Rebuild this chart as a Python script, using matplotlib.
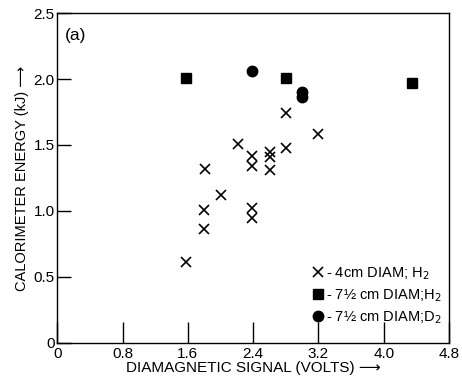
import matplotlib
matplotlib.use("Agg")
import matplotlib.pyplot as plt

plt.rcParams['font.family'] = ['Liberation Sans', 'DejaVu Sans']

# 4 cm diameter, H2 (crosses)
x4_h2 = [1.58, 1.80, 1.80, 1.81, 2.00, 2.22, 2.39, 2.39, 2.39, 2.39, 2.61, 2.61, 2.61, 2.80, 2.80, 3.19]
y4_h2 = [0.61, 0.86, 1.01, 1.32, 1.12, 1.51, 0.95, 1.02, 1.34, 1.42, 1.31, 1.41, 1.45, 1.48, 1.74, 1.58]
# 7 1/2 cm diameter, H2 (squares)
x7_h2 = [1.58, 2.80, 4.34]
y7_h2 = [2.01, 2.01, 1.97]
# 7 1/2 cm diameter, D2 (circles)
x7_d2 = [2.39, 3.00, 3.00]
y7_d2 = [2.06, 1.90, 1.86]

xticks = [0, 0.8, 1.6, 2.4, 3.2, 4.0, 4.8]
xtick_labels = ['0', '0.8', '1.6', '2.4', '3.2', '4.0', '4.8']
yticks = [0, 0.5, 1.0, 1.5, 2.0, 2.5]
ytick_labels = ['0', '0.5', '1.0', '1.5', '2.0', '2.5']

fig = plt.figure(figsize=(4.62, 3.84), dpi=100)
ax = fig.add_axes([0.124, 0.107, 0.848, 0.859])

ax.plot(x4_h2, y4_h2, 'x', color='black', markersize=6.5, markeredgewidth=1.2,
        label='- 4cm DIAM; H$_2$')
ax.plot(x7_h2, y7_h2, 's', color='black', markersize=7,
        label='- 7½ cm DIAM;H$_2$')
ax.plot(x7_d2, y7_d2, 'o', color='black', markersize=7.5,
        label='- 7½ cm DIAM;D$_2$')

ax.set_xlim(0, 4.8)
ax.set_ylim(0, 2.5)
ax.set_xticks(xticks)
ax.set_xticklabels(xtick_labels)
ax.set_yticks(yticks)
ax.set_yticklabels(ytick_labels)
ax.tick_params(axis='x', direction='in', length=15, width=1, labelsize=11, pad=3)
ax.tick_params(axis='y', direction='in', length=10, width=1, labelsize=11, pad=2)
for s in ax.spines.values():
    s.set_linewidth(1)

ax.set_xlabel('DIAMAGNETIC SIGNAL (VOLTS) ⟶', fontsize=11, labelpad=0)
ax.set_ylabel('CALORIMETER ENERGY (kJ) ⟶', fontsize=10.5, labelpad=3)
ax.text(0.02, 0.955, '(a)', transform=ax.transAxes, fontsize=12.5, va='top')

ax.legend(loc='lower right', bbox_to_anchor=(1.0, 0.03), frameon=False,
          fontsize=10.5, handlelength=0.8, handletextpad=0.15,
          borderaxespad=0.1, labelspacing=0.3)

fig.savefig('out.png', dpi=100)
